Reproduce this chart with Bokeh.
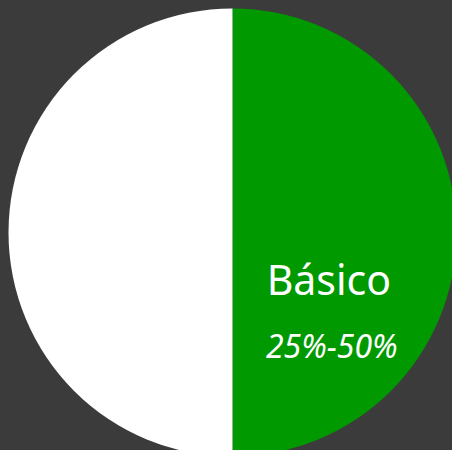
import math
from bokeh.plotting import figure
from bokeh.models import Range1d, ColumnDataSource, GlobalInlineStyleSheet
from bokeh.core.properties import value
from bokeh.embed import file_html
from bokeh.resources import INLINE

# data
categories = ["Básico", ""]
shares = [50, 50]
ranges_txt = ["25%-50%", ""]
colors = ["#009900", "#ffffff"]

W, H = 452, 450
cx, cy, R = 232, H - 232, 224

total = sum(shares)
starts, ends = [], []
a = math.pi / 2
for s in shares:
    starts.append(a)
    a -= 2 * math.pi * s / total
    ends.append(a)

src = ColumnDataSource(dict(start=ends, end=starts, color=colors))

p = figure(width=W, height=H, output_backend="svg", toolbar_location=None,
           x_range=Range1d(0, W), y_range=Range1d(0, H), min_border=0,
           background_fill_color="#3b3b3b", border_fill_color="#3b3b3b",
           outline_line_color=None)
p.axis.visible = False
p.grid.visible = False
p.stylesheets = [GlobalInlineStyleSheet(css="html,body{margin:0;padding:0;background:#3b3b3b;overflow:hidden}")]

p.wedge(x=cx, y=cy, radius=R, start_angle="start", end_angle="end",
        color="color", line_color=None, source=src)

mid = (starts[0] + ends[0]) / 2
lx = cx + 0.43 * R * math.cos(mid)
ly = cy + 0.43 * R * math.sin(mid)

p.text(x=[lx], y=[ly], text=[categories[0]], y_offset=46, text_color="white",
       text_font=value("Noto Sans"), text_font_size="41px",
       text_align="center", text_baseline="middle")
p.text(x=[lx + 3], y=[ly], text=[ranges_txt[0]], y_offset=113, text_color="white",
       text_font=value("Noto Sans"), text_font_style="italic", text_font_size="32px",
       text_align="center", text_baseline="middle")

open("out.html", "w").write(file_html(p, INLINE))
